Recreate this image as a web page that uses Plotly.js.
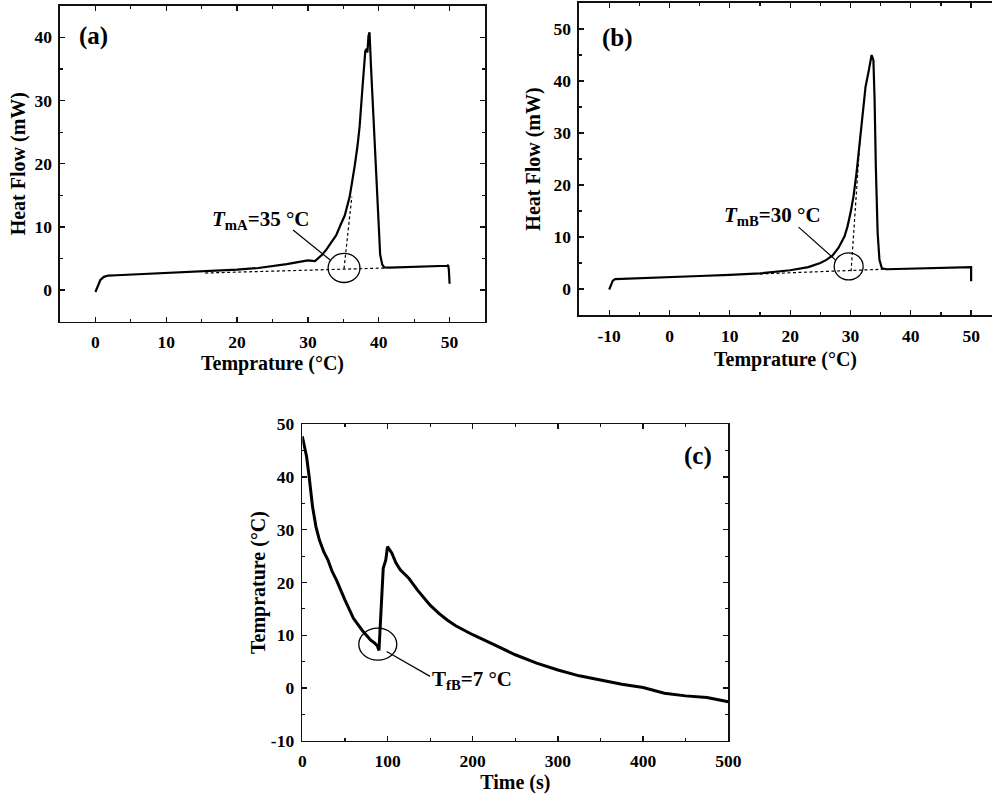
<!DOCTYPE html>
<html>
<head>
<meta charset="utf-8">
<script src="https://cdn.plot.ly/plotly-3.0.1.min.js"></script>
<style>
html,body{margin:0;padding:0;background:#fff;}
#chart{width:992px;height:794px;}
</style>
</head>
<body>
<div id="chart"></div>
<script>
// ---------- Panel (a): DSC heating curve, sample A ----------
const aTemp = [0, 0.3, 0.7, 1.2, 1.8, 3, 5, 10, 15, 20, 23, 25, 27, 29, 30, 31, 32, 32.6, 33.3, 34, 34.6, 35.2, 35.9, 36.3, 36.6, 37, 37.3, 37.7, 38.1, 38.3, 38.4, 38.55, 38.7, 38.9, 39.2, 39.5, 39.9, 40.2, 40.5, 40.8, 41.5, 43, 46, 49.7, 49.8, 49.9, 50];
const aHeat = [-0.3, 0.6, 1.6, 2.1, 2.3, 2.35, 2.45, 2.7, 2.95, 3.25, 3.5, 3.75, 4.1, 4.5, 4.7, 4.6, 5.6, 6.4, 7.5, 8.7, 10.3, 11.8, 14.8, 17.2, 19.6, 22.8, 25.9, 32.0, 37.8, 38.2, 37.6, 40.2, 40.8, 35.5, 29, 22, 11.7, 5.6, 4.0, 3.6, 3.55, 3.6, 3.7, 3.85, 4.0, 3.2, 1.0];
const aBaseX = [15.5, 41];
const aBaseY = [2.7, 3.5];
const aTanX = [35.1, 36.2];
const aTanY = [3.4, 14.8];
const aLeadX = [27.9, 33.1];
const aLeadY = [9.5, 4.8];
const aRing = [35.1, 3.5, 2.25, 2.3];   // centre x, centre y, half width, half height

// ---------- Panel (b): DSC heating curve, sample B ----------
const bTemp = [-10, -9.7, -9.4, -9, -5, 0, 5, 10, 15, 20, 23, 25, 26, 27, 28, 29, 29.5, 30, 30.5, 31, 31.5, 32, 32.5, 33, 33.5, 33.8, 34, 34.2, 34.5, 34.8, 35.2, 36, 40, 45, 50, 50];
const bHeat = [-0.1, 0.6, 1.6, 1.9, 2.1, 2.3, 2.5, 2.7, 3.0, 3.6, 4.2, 5.0, 5.6, 6.4, 7.9, 10.1, 12, 14.6, 17.8, 22.3, 28, 34.4, 38.9, 41.8, 45, 44, 36.4, 23.6, 10.8, 5.6, 4.0, 3.8, 3.9, 4.0, 4.2, 1.5];
const bBaseX = [15, 35.5];
const bBaseY = [2.9, 3.8];
const bTanX = [30.1, 31.65];
const bTanY = [3.4, 30];
const bLeadX = [21.4, 27.5];
const bLeadY = [11.9, 5.6];
const bRing = [29.7, 4.35, 2.4, 2.6];

// ---------- Panel (c): cooling curve, sample B ----------
const cTime = [0, 3, 5, 8, 10, 12, 16, 20, 25, 30, 35, 40, 50, 60, 70, 80, 85, 88, 90, 91, 93, 95, 98, 100, 105, 110, 115, 125, 135, 150, 160, 170, 180, 190, 200, 225, 250, 275, 300, 325, 350, 375, 400, 425, 450, 475, 500];
const cTemp = [47.7, 45.5, 43.9, 40.1, 37, 34.4, 30.6, 28.1, 25.9, 24.3, 22.1, 20.5, 16.7, 13.2, 11, 9.1, 8.5, 8, 7.1, 10.4, 18, 22.7, 24.3, 26.8, 25.6, 23.7, 22.4, 20.8, 18.6, 15.7, 14.2, 12.9, 11.8, 10.9, 10.1, 8.2, 6.3, 4.7, 3.4, 2.3, 1.5, 0.7, 0.1, -1, -1.5, -1.8, -2.6];
const cLeadX = [99, 150];
const cLeadY = [6.9, 2.2];
const cRing = [88.6, 8.3, 22.3, 3.03];

// ---------- tick labels ----------
const aXTicks = [0, 10, 20, 30, 40, 50];
const aYTicks = [0, 10, 20, 30, 40];
const bXTicks = [-10, 0, 10, 20, 30, 40, 50];
const bXText = ['-10', '0', '10', '20', '30', '40', '50'];
const bYTicks = [0, 10, 20, 30, 40, 50];
const cXTicks = [0, 100, 200, 300, 400, 500];
const cYTicks = [-10, 0, 10, 20, 30, 40, 50];
const cYText = ['-10', '0', '10', '20', '30', '40', '50'];

const FONT = 'Liberation Serif, Times New Roman, serif';
const INK = '#000';

const solid = (x, y, xa, ya, w) => ({x, y, xaxis: xa, yaxis: ya, type: 'scatter', mode: 'lines',
  line: {color: INK, width: w, shape: 'linear'}, hoverinfo: 'skip', showlegend: false});
const dashed = (x, y, xa, ya) => ({x, y, xaxis: xa, yaxis: ya, type: 'scatter', mode: 'lines',
  line: {color: INK, width: 1.2, dash: '3px,2.5px'}, hoverinfo: 'skip', showlegend: false});

const traces = [
  dashed(aBaseX, aBaseY, 'x', 'y'),
  dashed(aTanX, aTanY, 'x', 'y'),
  solid(aLeadX, aLeadY, 'x', 'y', 1.2),
  solid(aTemp, aHeat, 'x', 'y', 2.2),
  dashed(bBaseX, bBaseY, 'x2', 'y2'),
  dashed(bTanX, bTanY, 'x2', 'y2'),
  solid(bLeadX, bLeadY, 'x2', 'y2', 1.2),
  solid(bTemp, bHeat, 'x2', 'y2', 2.2),
  solid(cLeadX, cLeadY, 'x3', 'y3', 1.2),
  solid(cTime, cTemp, 'x3', 'y3', 3)
];

const ring = (r, xr, yr) => ({type: 'circle', xref: xr, yref: yr,
  x0: r[0] - r[2], x1: r[0] + r[2], y0: r[1] - r[3], y1: r[1] + r[3],
  line: {color: INK, width: 1.3}, fillcolor: 'rgba(0,0,0,0)'});

const tickFont = {family: FONT, size: 17.5, color: INK, weight: 'bold'};
const titleFont = {family: FONT, size: 20, color: INK, weight: 'bold'};
const minorTicks = (d) => ({ticks: 'inside', ticklen: 3, dtick: d, tick0: 0, tickcolor: '#111', tickwidth: 1.2});

function xAxis(extra) {
  return Object.assign({
    showline: true, linecolor: '#111', linewidth: 1.6, mirror: 'allticks',
    ticks: 'inside', ticklen: 5, tickwidth: 1.3, tickcolor: '#111',
    showgrid: false, zeroline: false, tickfont: tickFont, fixedrange: true,
    ticklabelstandoff: 4
  }, extra);
}
function yAxis(extra) {
  return Object.assign({
    showline: true, linecolor: '#111', linewidth: 1.6, mirror: 'allticks',
    ticks: 'inside', ticklen: 5, tickwidth: 1.3, tickcolor: '#111',
    showgrid: false, zeroline: false, tickfont: tickFont, fixedrange: true,
    ticklabelstandoff: 3
  }, extra);
}

const layout = {
  width: 992, height: 794,
  margin: {l: 0, r: 0, t: 0, b: 0},
  paper_bgcolor: '#fff', plot_bgcolor: 'rgba(0,0,0,0)',
  showlegend: false,
  font: {family: FONT, color: INK},
  xaxis: xAxis({domain: [0.06048, 0.48891], range: [-5, 55], anchor: 'y', tickvals: aXTicks,
    minor: minorTicks(5),
    title: {text: 'Temprature (°C)', font: titleFont, standoff: 2}}),
  yaxis: yAxis({domain: [0.59484, 0.99282], range: [-5, 45], anchor: 'x', tickvals: aYTicks,
    minor: minorTicks(5),
    title: {text: 'Heat Flow (mW)', font: titleFont, standoff: 3}}),
  xaxis2: xAxis({domain: [0.5837, 1], range: [-15, 53.46], anchor: 'y2', tickvals: bXTicks, ticktext: bXText,
    minor: minorTicks(5),
    title: {text: 'Temprature (°C)', font: titleFont, standoff: 7}}),
  yaxis2: yAxis({domain: [0.60327, 0.99622], range: [-5, 55], anchor: 'x2', tickvals: bYTicks, mirror: false,
    minor: minorTicks(5),
    title: {text: 'Heat Flow (mW)', font: titleFont, standoff: 7}}),
  xaxis3: xAxis({domain: [0.30474, 0.73417], range: [0, 500], anchor: 'y3', tickvals: cXTicks,
    minor: minorTicks(50),
    title: {text: 'Time (s)', font: titleFont, standoff: 1}}),
  yaxis3: yAxis({domain: [0.06713, 0.46562], range: [-10, 50], anchor: 'x3', tickvals: cYTicks, ticktext: cYText,
    minor: minorTicks(5),
    title: {text: 'Temprature (°C)', font: titleFont, standoff: 0}}),
  shapes: [ring(aRing, 'x', 'y'), ring(bRing, 'x2', 'y2'), ring(cRing, 'x3', 'y3')],
  annotations: [
    {xref: 'x', yref: 'y', x: -0.2, y: 40.2, text: '(a)', showarrow: false, xanchor: 'center', yanchor: 'middle',
      font: {family: FONT, size: 25, color: INK, weight: 'bold'}},
    {xref: 'x2', yref: 'y2', x: -8.7, y: 48.2, text: '(b)', showarrow: false, xanchor: 'center', yanchor: 'middle',
      font: {family: FONT, size: 25, color: INK, weight: 'bold'}},
    {xref: 'x3', yref: 'y3', x: 464.5, y: 43.9, text: '(c)', showarrow: false, xanchor: 'center', yanchor: 'middle',
      font: {family: FONT, size: 25, color: INK, weight: 'bold'}},
    {xref: 'x', yref: 'y', x: 23.3, y: 11.1, text: '<i>T</i><sub>mA</sub>=35 °C', showarrow: false,
      xanchor: 'center', yanchor: 'middle', font: {family: FONT, size: 21, color: INK, weight: 'bold'}},
    {xref: 'x2', yref: 'y2', x: 17, y: 14.0, text: '<i>T</i><sub>mB</sub>=30 °C', showarrow: false,
      xanchor: 'center', yanchor: 'middle', font: {family: FONT, size: 21, color: INK, weight: 'bold'}},
    {xref: 'x3', yref: 'y3', x: 199, y: 1.5, text: 'T<sub>fB</sub>=7 °C', showarrow: false,
      xanchor: 'center', yanchor: 'middle', font: {family: FONT, size: 21, color: INK, weight: 'bold'}}
  ]
};

Plotly.newPlot('chart', traces, layout, {staticPlot: true, displayModeBar: false});
</script>
</body>
</html>
